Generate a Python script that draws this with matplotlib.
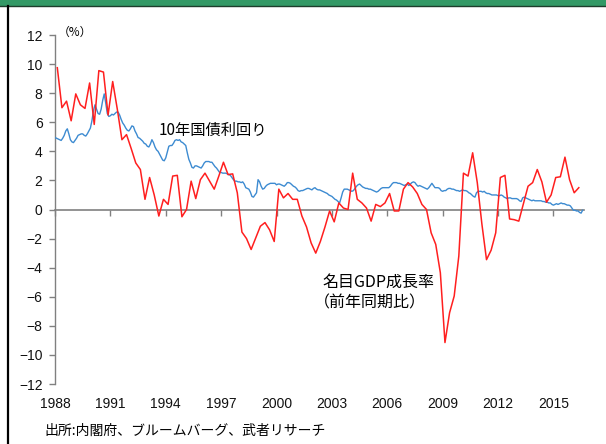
import numpy as np
import matplotlib.pyplot as plt
from matplotlib.patches import Rectangle
from matplotlib.lines import Line2D

plt.rcParams['font.family'] = ['Liberation Sans', 'Noto Sans CJK JP', 'DejaVu Sans']
jpFont = ['Noto Sans CJK JP', 'DejaVu Sans']

# 名目GDP成長率 (前年同期比), quarterly from 1988Q1
gdpStart = 1988.125
gdpGrowth = [
    9.75, 7.0, 7.45, 6.1,      # 1988
    7.95, 7.2, 6.95, 8.7,      # 1989
    5.85, 9.55, 9.45, 6.5,     # 1990
    8.8, 6.9, 4.8, 5.15,       # 1991
    4.2, 3.2, 2.75, 0.7,       # 1992
    2.2, 1.0, -0.45, 0.7,      # 1993
    0.35, 2.3, 2.35, -0.5,     # 1994
    0.0, 1.95, 0.75, 2.05,     # 1995
    2.5, 1.95, 1.4, 2.3,       # 1996
    3.25, 2.4, 2.45, 1.15,     # 1997
    -1.55, -2.0, -2.75, -1.95, # 1998
    -1.15, -0.9, -1.4, -2.2,   # 1999
    1.4, 0.8, 1.1, 0.7,        # 2000
    0.7, -0.45, -1.2, -2.3,    # 2001
    -3.0, -2.2, -1.2, -0.1,    # 2002
    -0.85, 0.45, 0.1, 0.0,     # 2003
    2.5, 0.7, 0.45, 0.1,       # 2004
    -0.8, 0.35, 0.2, 0.45,     # 2005
    1.1, -0.1, -0.1, 1.4,      # 2006
    1.85, 1.55, 1.1, 0.35,     # 2007
    0.0, -1.6, -2.4, -4.35,    # 2008
    -9.15, -7.1, -5.95, -3.2,  # 2009
    2.5, 2.3, 3.9, 1.85,       # 2010
    -1.0, -3.45, -2.8, -1.6,   # 2011
    2.2, 2.35, -0.65, -0.7,    # 2012
    -0.8, 0.4, 1.6, 1.85,      # 2013
    2.75, 1.9, 0.5, 1.0,       # 2014
    2.2, 2.25, 3.6, 2.05,      # 2015
    1.15, 1.5,                 # 2016
]

# 10年国債利回り, monthly from Jan 1988
bondRows = [
    [4.95, 4.9, 4.85, 4.8, 4.75, 4.9, 5.1, 5.4, 5.55, 5.2, 4.8, 4.65],
    [4.6, 4.75, 4.9, 5.1, 5.15, 5.2, 5.2, 5.1, 5.05, 5.2, 5.4, 5.6],
    [6.1, 6.8, 7.2, 6.9, 6.6, 6.55, 6.9, 7.5, 7.95, 7.3, 6.6, 6.4],
    [6.45, 6.55, 6.5, 6.6, 6.7, 6.7, 6.5, 6.2, 5.95, 5.8, 5.6, 5.45],
    [5.4, 5.55, 5.75, 5.7, 5.4, 5.2, 4.95, 4.9, 4.8, 4.7, 4.55, 4.5],
    [4.35, 4.3, 4.5, 4.8, 4.6, 4.3, 4.1, 4.0, 3.8, 3.6, 3.4, 3.35],
    [3.55, 3.95, 4.35, 4.4, 4.4, 4.55, 4.75, 4.8, 4.75, 4.8, 4.65, 4.6],
    [4.5, 4.4, 3.9, 3.45, 3.2, 2.9, 2.85, 3.0, 3.0, 2.95, 2.9, 2.85],
    [3.0, 3.2, 3.3, 3.3, 3.3, 3.25, 3.25, 3.1, 2.95, 2.85, 2.7, 2.55],
    [2.55, 2.5, 2.5, 2.5, 2.45, 2.4, 2.35, 2.2, 2.05, 1.95, 1.95, 1.9],
    [1.9, 1.85, 1.9, 1.75, 1.5, 1.45, 1.4, 1.2, 0.9, 0.85, 1.0, 1.15],
    [2.05, 1.9, 1.6, 1.4, 1.45, 1.6, 1.7, 1.75, 1.8, 1.8, 1.8, 1.8],
    [1.7, 1.75, 1.75, 1.7, 1.65, 1.6, 1.7, 1.85, 1.85, 1.8, 1.7, 1.6],
    [1.55, 1.45, 1.3, 1.25, 1.3, 1.3, 1.35, 1.4, 1.45, 1.45, 1.4, 1.35],
    [1.45, 1.5, 1.4, 1.35, 1.35, 1.3, 1.25, 1.2, 1.15, 1.1, 1.0, 0.95],
    [0.9, 0.8, 0.7, 0.65, 0.55, 0.45, 0.8, 1.2, 1.4, 1.4, 1.4, 1.35],
    [1.3, 1.25, 1.3, 1.45, 1.6, 1.7, 1.75, 1.65, 1.55, 1.5, 1.45, 1.45],
    [1.4, 1.4, 1.35, 1.3, 1.25, 1.2, 1.25, 1.35, 1.45, 1.5, 1.5, 1.5],
    [1.5, 1.5, 1.6, 1.75, 1.85, 1.85, 1.85, 1.8, 1.8, 1.75, 1.7, 1.65],
    [1.7, 1.75, 1.65, 1.75, 1.85, 1.9, 1.85, 1.7, 1.6, 1.65, 1.6, 1.55],
    [1.5, 1.45, 1.4, 1.5, 1.65, 1.8, 1.65, 1.5, 1.5, 1.5, 1.45, 1.3],
    [1.25, 1.3, 1.3, 1.4, 1.45, 1.45, 1.4, 1.4, 1.35, 1.3, 1.3, 1.25],
    [1.3, 1.35, 1.3, 1.3, 1.25, 1.15, 1.1, 1.0, 0.9, 0.85, 1.15, 1.25],
    [1.25, 1.25, 1.2, 1.25, 1.15, 1.1, 1.1, 1.05, 1.0, 1.0, 1.0, 1.0],
    [0.95, 0.95, 1.0, 0.95, 0.85, 0.8, 0.75, 0.8, 0.8, 0.75, 0.75, 0.75],
    [0.75, 0.7, 0.6, 0.55, 0.8, 0.85, 0.8, 0.75, 0.7, 0.65, 0.6, 0.65],
    [0.6, 0.6, 0.6, 0.6, 0.6, 0.55, 0.55, 0.5, 0.5, 0.45, 0.45, 0.35],
    [0.3, 0.35, 0.4, 0.35, 0.4, 0.45, 0.4, 0.4, 0.35, 0.3, 0.3, 0.25],
    [0.1, -0.05, -0.05, -0.1, -0.1, -0.2, -0.25, -0.05],
]
bondYield = np.concatenate([np.array(r) for r in bondRows])

yearTicks = [1988, 1991, 1994, 1997, 2000, 2003, 2006, 2009, 2012, 2015]
yTicks = list(range(-12, 13, 2))

W, H = 606, 444
fig = plt.figure(figsize=(W / 100, H / 100), dpi=100)

# header bar and left border
fig.patches.append(Rectangle((0, 1 - 6 / H), 1, 6 / H, transform=fig.transFigure,
                             facecolor='#339966', edgecolor='none'))
fig.lines.append(Line2D([0, 1], [1 - 6.5 / H, 1 - 6.5 / H], transform=fig.transFigure,
                        color='#1e3d2c', lw=1))
fig.lines.append(Line2D([7.5 / W, 7.5 / W], [0, 1 - 6.5 / H], transform=fig.transFigure,
                        color='black', lw=1.6))

ax = fig.add_axes([55 / W, 1 - 384 / H, 529 / W, 349 / H])
ax.set_facecolor('none')

gdpX = gdpStart + 0.25 * np.arange(len(gdpGrowth))
bondX = 1988 + np.arange(len(bondYield)) / 12

ax.plot(bondX, bondYield, color='#3d8bd1', lw=1.0, zorder=3)
ax.plot(gdpX, gdpGrowth, color='#ff1f1f', lw=1.1, zorder=4)

ax.set_xlim(1988, 1988 + 529 / 18.46)
ax.set_ylim(-12, 12)
for s in ['top', 'right']:
    ax.spines[s].set_visible(False)
ax.spines['bottom'].set_position(('data', 0))
ax.spines['bottom'].set_color('#808080')
ax.spines['left'].set_color('#808080')
ax.spines['bottom'].set_linewidth(1.2)
ax.spines['left'].set_linewidth(1.0)

ax.set_xticks(yearTicks)
ax.tick_params(axis='x', direction='out', length=4, width=1, color='#808080',
               labelbottom=False)
ax.set_yticks(yTicks)
ax.tick_params(axis='y', direction='out', length=4, width=1, color='#808080',
               pad=5, labelsize=10, labelcolor='#111111')

sec = ax.secondary_xaxis('bottom')
sec.set_xticks(yearTicks)
sec.spines['bottom'].set_visible(False)
sec.tick_params(length=0, pad=9, labelsize=10, labelcolor='#111111')

fig.text(58 / W, 1 - 32 / H, '（%）', fontsize=8.5, family=jpFont, va='center', ha='left')
fig.text(159 / W, 1 - 130 / H, '10年国債利回り', fontsize=11, family=jpFont,
         va='center', ha='left')
fig.text(322 / W, 1 - 282 / H, '名目GDP成長率', fontsize=11.5, family=jpFont,
         va='center', ha='left')
fig.text(314 / W, 1 - 303 / H, '（前年同期比）', fontsize=11.5, family=jpFont,
         va='center', ha='left')
fig.text(44 / W, 1 - 431 / H, '出所:内閣府、ブルームバーグ、武者リサーチ', fontsize=10,
         family=jpFont, va='center', ha='left')

fig.savefig('out.png', dpi=100)
